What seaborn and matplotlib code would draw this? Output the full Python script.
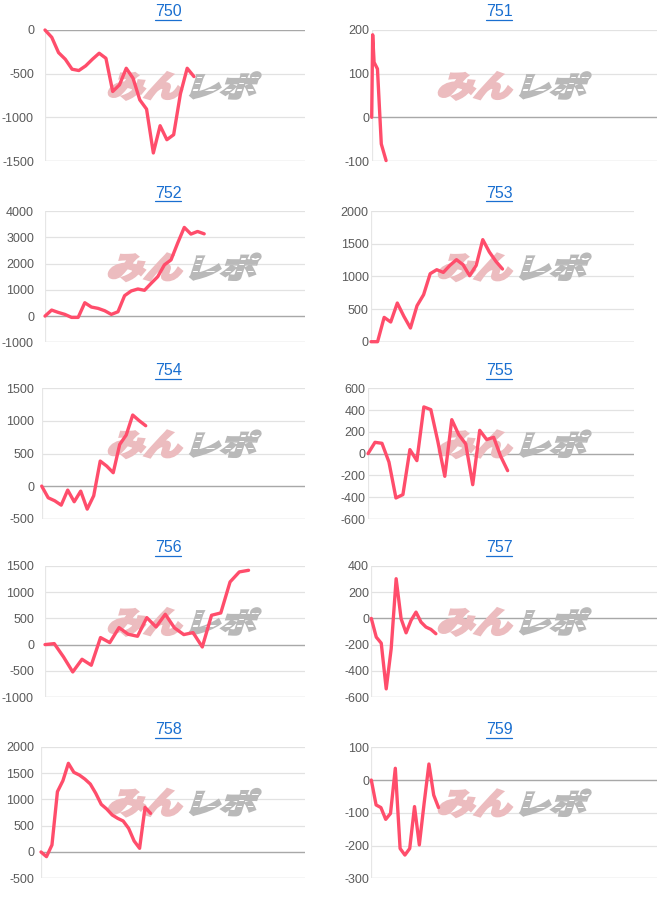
import numpy as np
import pandas as pd
import matplotlib
matplotlib.use("Agg")
import matplotlib.pyplot as plt
import seaborn as sns
from matplotlib.textpath import TextPath
from matplotlib.font_manager import FontProperties
from matplotlib.patches import PathPatch, Rectangle
from matplotlib.transforms import Affine2D
from matplotlib.lines import Line2D

# ---------------- data ----------------
titles = ["750", "751", "752", "753", "754", "755", "756", "757", "758", "759"]

v750 = [0, -84, -259, -335, -449, -464, -411, -335, -266, -324, -704, -628, -438,
        -552, -800, -906, -1408, -1096, -1256, -1199, -731, -438, -533]
v751 = [0, 189, 126, 111, -61, -99]
x751 = [0, 0.2, 0.5, 1.2, 2.0, 3.0]
v752 = [0, 230, 140, 65, -50, -50, 510, 345, 295, 205, 65, 165, 780, 960, 1035,
        985, 1250, 1505, 1955, 2145, 2785, 3385, 3130, 3230, 3140]
v753 = [0, 0, 373, 302, 593, 389, 210, 552, 721, 1043, 1104, 1063, 1171, 1258,
        1181, 1012, 1171, 1565, 1376, 1232, 1115]
v754 = [0, -179, -225, -292, -61, -240, -77, -353, -148, 384, 307, 205, 639, 783,
        1090, 1003, 926]
v755 = [0, 104, 95, -77, -407, -376, 37, -64, 429, 404, 113, -208, 312, 174, 89,
        -285, 214, 129, 150, -24, -156]
v756 = [0, 19, -235, -522, -280, -394, 134, 38, 324, 197, 159, 515, 337, 579, 318,
        191, 229, -45, 560, 604, 1196, 1387, 1418]
v757 = [0, -143, -189, -538, -232, 303, -3, -110, -15, 48, -28, -66, -84, -117]
v758 = [0, -89, 133, 1146, 1354, 1684, 1513, 1462, 1386, 1291, 1114, 905, 816, 703,
        639, 589, 449, 209, 70, 848, 734]
v759 = [0, -76, -84, -120, -102, 36, -209, -229, -209, -81, -198, -71, 49, -46, -84]

series = [v750, v751, v752, v753, v754, v755, v756, v757, v758, v759]
xvals = [None, x751, None, None, None, None, None, None, None, None]

# axis ranges (ymin, ymax, step) and x extent (in data units)
yranges = [(-1500, 0, 500), (-100, 200, 100), (-1000, 4000, 1000), (0, 2000, 500),
           (-500, 1500, 500), (-600, 600, 200), (-1000, 1500, 500), (-600, 400, 200),
           (-500, 2000, 500), (-300, 100, 100)]
xmaxes = [38.4, 59.5, 39.2, 40.0, 40.5, 38.1, 28.1, 57.5, 48.2, 59.5]

# ---------------- layout (pixels) ----------------
W, H = 664, 897
boxes = [  # left, right, top, bottom
    (45, 305, 30, 161), (371.7, 657, 30, 161),
    (45, 305, 211.3, 342.3), (371, 634, 211.3, 341.7),
    (41.7, 305, 388.3, 518.7), (368, 634, 388.3, 519),
    (45, 305, 566, 697), (371.3, 657, 566, 697),
    (41, 305, 746.7, 878.3), (371.3, 657, 747.3, 878.3),
]
title_y = [12, 193, 370, 547.7, 729]
title_x = [168, 499]

LINE = "#ff4d6b"
BLUE = "#1a6fd0"

sns.set_theme(style="white")
plt.rcParams['font.family'] = ['Liberation Sans', 'DejaVu Sans']

fig = plt.figure(figsize=(W / 100, H / 100), dpi=100)
px2disp = Affine2D().scale(1 / 100) + fig.dpi_scale_trans

fp_jp = FontProperties(family=['Noto Sans CJK JP'], weight='bold')


def glyphs(ax, text, x0, top, w, h, color, skew=18, stripes=False):
    tp = TextPath((0, 0), text, size=100, prop=fp_jp)
    bb = tp.get_extents()
    sh = np.tan(np.radians(skew)) * h
    t = (Affine2D().translate(-bb.x0, -bb.y0)
         .scale((w - sh) / bb.width, h / bb.height)
         .skew_deg(skew, 0)
         .translate(x0, H - top - h))
    p = PathPatch(tp, transform=t + px2disp, facecolor=color, edgecolor=color,
                  linewidth=2.2, joinstyle='miter', zorder=1.5, clip_on=False)
    ax.add_patch(p)
    if stripes:
        for fy in (0.30, 0.55, 0.78):
            yb = H - top - h + fy * h
            rct = Rectangle((x0 - 5, yb), w + 10, 1.3, transform=px2disp,
                            facecolor="white", edgecolor="none", zorder=1.6,
                            clip_on=True)
            ax.add_patch(rct)
            rct.set_clip_path(p)


for i, vals in enumerate(series):
    l, r, t, b = boxes[i]
    col = i % 2
    row = i // 2
    ax = fig.add_axes([l / W, 1 - b / H, (r - l) / W, (b - t) / H])
    xs = xvals[i] if xvals[i] is not None else list(range(len(vals)))
    df = pd.DataFrame({"x": xs, "y": vals})
    ymin, ymax, step = yranges[i]

    # watermark
    wx = 107 + 330 * col
    glyphs(ax, "みん", wx, t + 42.7, 80, 26.5, "#ecbcbf")
    glyphs(ax, "レポ", wx + 83, t + 42.7, 71, 25.5, "#b9b9b9", stripes=True)

    sns.lineplot(data=df, x="x", y="y", ax=ax, color=LINE, linewidth=2.4,
                 zorder=3, clip_on=False)

    ax.set_xlim(0, xmaxes[i])
    ax.set_ylim(ymin, ymax)
    ticks = np.arange(ymin, ymax + step / 2, step)
    ax.set_yticks(ticks)
    ax.set_yticklabels([f"{int(v)}" for v in ticks])
    ax.set_xticks([])
    ax.set_xlabel("")
    ax.set_ylabel("")
    for s in ax.spines.values():
        s.set_visible(False)
    ax.set_axisbelow(True)
    for v in ticks:
        if v == 0:
            c, lw = "#a8a8a8", 1.0
        elif v == ymin:
            c, lw = "#cfcfcf", 1.0
        else:
            c, lw = "#e2e2e2", 0.9
        ax.axhline(v, color=c, linewidth=lw, zorder=1)
    ax.axvline(0, color="#e6e6e6", linewidth=0.9, zorder=1)
    if col == 0:
        pad = (l - 34) * 0.72
    else:
        pad = 2.2 * 0.72
    ax.tick_params(axis='y', length=0, pad=pad, labelsize=9, labelcolor="#5a5a5a")
    ax.set_facecolor("none")

    # title
    fig.text(title_x[col] / W, 1 - title_y[row] / H, titles[i], ha='center',
             va='center', fontsize=11.5, color=BLUE)

fig.canvas.draw()
renderer = fig.canvas.get_renderer()
for txt in list(fig.texts):
    bb = txt.get_window_extent(renderer)
    yline = bb.y0 - 1.0
    fig.add_artist(Line2D([bb.x0, bb.x1], [yline, yline], transform=None,
                          color=BLUE, linewidth=0.9))

fig.savefig("out.png", dpi=100)
